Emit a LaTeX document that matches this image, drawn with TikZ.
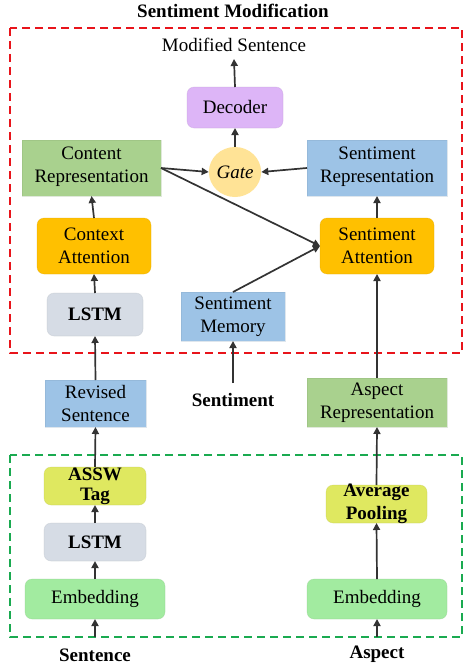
\documentclass[tikz,border=0pt]{standalone}
\usepackage{fontspec}
\setmainfont{Liberation Serif}
\usetikzlibrary{arrows.meta,shapes.geometric}
\definecolor{cpurple}{HTML}{DDB5F7}
\definecolor{cgreen}{HTML}{A9D18E}
\definecolor{cblue}{HTML}{9DC3E6}
\definecolor{corange}{HTML}{FFC000}
\definecolor{cgray}{HTML}{D6DCE5}
\definecolor{cgate}{HTML}{FFE396}
\definecolor{cyel}{HTML}{DFE860}
\definecolor{cemb}{HTML}{A2EBA0}
\definecolor{cred}{HTML}{E8141B}
\definecolor{cdgreen}{HTML}{1AAA50}
\definecolor{carrow}{HTML}{333333}
\tikzset{
  x=1pt,y=-1pt,
  txt/.style={font=\fontsize{19}{23}\selectfont,align=center,inner sep=0pt},
  btxt/.style={font=\fontsize{19}{23}\selectfont\bfseries,align=center,inner sep=0pt},
  sqbox/.style={draw=#1!80!black,draw opacity=0.25,fill=#1,line width=0.6pt},
  rbox/.style={draw=#1!80!black,draw opacity=0.25,fill=#1,line width=0.6pt,rounded corners=7pt},
  arr/.style={draw=carrow,line width=1.7pt,-{Triangle[length=7pt,width=7pt]}},
  frame/.style={dash pattern=on 8pt off 5pt,line width=2pt},
}
\newcommand{\mybox}[7]{% name, style, color, x1, y1, x2, y2
  \path[#2=#3] (#4,#5) rectangle (#6,#7);
  \coordinate (#1) at ({(#4+#6)/2},{(#5+#7)/2});
  \coordinate (#1-t) at ({(#4+#6)/2},#5);
  \coordinate (#1-b) at ({(#4+#6)/2},#7);
  \coordinate (#1-l) at (#4,{(#5+#7)/2});
  \coordinate (#1-r) at (#6,{(#5+#7)/2});
}
\begin{document}
\begin{tikzpicture}
\useasboundingbox[fill=white] (0,0) rectangle (463,669);
% frames
\draw[frame,cred] (10,28) rectangle (462,353);
\draw[frame,cdgreen] (10,455) rectangle (462,637);
\node[btxt] (title) at (233,11) {Sentiment Modification};
\node[txt] (mod) at (234,45) {Modified Sentence};
\coordinate (modb) at (234,59);
% boxes
\mybox{dec}{rbox}{cpurple}{187}{87}{283}{128}
\node[txt] (dect) at (dec) {Decoder};
\mybox{crep}{sqbox}{cgreen}{22}{140}{161}{196}
\node[txt] (crept) at ([yshift=1pt]crep) {Content\\Representation};
\mybox{srep}{sqbox}{cblue}{307}{140}{447}{196}
\node[txt] (srept) at ([yshift=1pt]srep) {Sentiment\\Representation};
\node[ellipse,fill=cgate,minimum width=52pt,minimum height=50pt,inner sep=0pt,
  font=\fontsize{19}{23}\selectfont\itshape] (gate) at (235,172) {Gate};
\mybox{catt}{rbox}{corange}{37}{218}{151}{274}
\node[txt] (cattt) at (catt) {Context\\Attention};
\mybox{satt}{rbox}{corange}{320}{218}{434}{274}
\node[txt] (sattt) at (satt) {Sentiment\\Attention};
\mybox{smem}{sqbox}{cblue}{181}{292}{285}{341}
\node[txt] (smemt) at (smem) {Sentiment\\Memory};
\mybox{lstma}{rbox}{cgray}{47}{293}{143}{336}
\node[btxt] (lstmat) at (lstma) {LSTM};
\mybox{rev}{sqbox}{cblue}{45}{380}{146}{427}
\node[txt] (revt) at (rev) {Revised\\Sentence};
\node[btxt] (sent) at (233,400) {Sentiment};
\coordinate (sentt) at (233,383);
\mybox{arep}{sqbox}{cgreen}{307}{378}{447}{427}
\node[txt] (arept) at (arep) {Aspect\\Representation};
\mybox{assw}{rbox}{cyel}{44}{467}{146}{505}
\node[btxt,font=\fontsize{19}{20}\selectfont\bfseries] (asswt) at (95,486) {ASSW\\Tag};
\mybox{lstmb}{rbox}{cgray}{44}{523}{146}{561}
\node[btxt] (lstmbt) at (lstmb) {LSTM};
\mybox{emba}{rbox}{cemb}{25}{579}{165}{619}
\node[txt] (embat) at (emba) {Embedding};
\mybox{avg}{rbox}{cyel}{326}{485}{427}{523}
\node[btxt] (avgt) at (avg) {Average\\Pooling};
\mybox{embb}{rbox}{cemb}{307}{579}{447}{619}
\node[txt] (embbt) at (embb) {Embedding};
\node[btxt] (sinp) at (95,655) {Sentence};
\node[btxt] (ainp) at (377,654) {Aspect};
\coordinate (sinpt) at (95,637);
\coordinate (ainpt) at (377,637);
% arrows
\draw[arr] (dec-t) -- (modb);
\draw[arr] (gate.north) -- (dec-b);
\draw[arr] (crep-r) -- (gate.west);
\draw[arr] (srep-l) -- (gate.east);
\draw[arr] (crep-r) -- (satt-l);
\draw[arr] (smem-t) -- (satt-l);
\draw[arr] (catt-t) -- (crep-b);
\draw[arr] (satt-t) -- (srep-b);
\draw[arr] (lstma-t) -- (catt-b);
\draw[arr] (rev-t) -- (lstma-b);
\draw[arr] (sentt) -- (smem-b);
\draw[arr] (arep-t) -- (satt-b);
\draw[arr] (assw-t) -- (rev-b);
\draw[arr] (lstmb-t) -- (assw-b);
\draw[arr] (emba-t) -- (lstmb-b);
\draw[arr] (sinpt) -- (emba-b);
\draw[arr] (avg-t) -- (arep-b);
\draw[arr] (embb-t) -- (avg-b);
\draw[arr] (ainpt) -- (embb-b);
\end{tikzpicture}
\end{document}
